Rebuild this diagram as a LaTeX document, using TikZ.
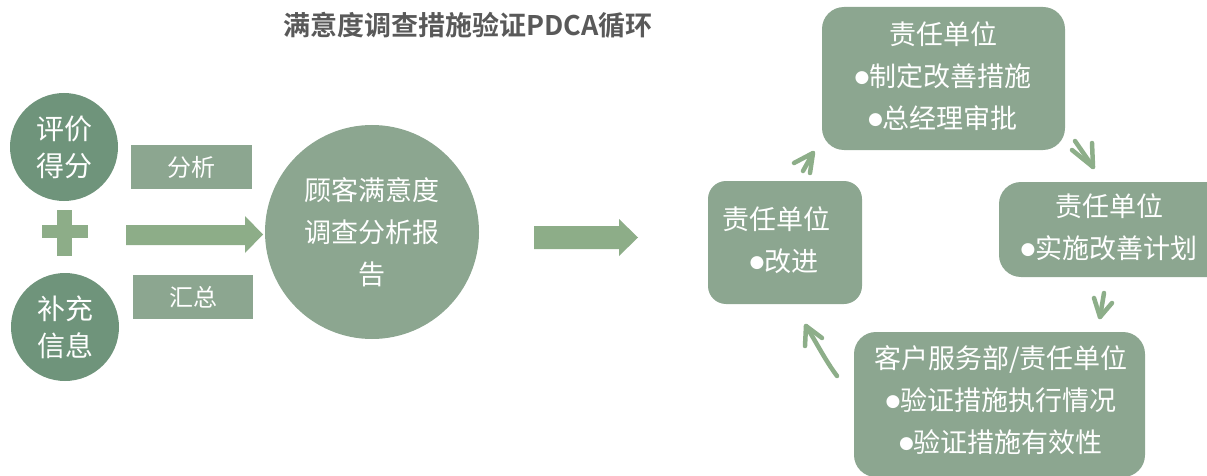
\documentclass[tikz,border=0pt]{standalone}
\usepackage{fontspec}
\setmainfont{Noto Sans CJK SC}[BoldFont=Noto Sans CJK SC Bold]
\newfontfamily\dvs{DejaVu Sans}
\definecolor{darkc}{HTML}{6F947B}
\definecolor{boxc}{HTML}{8CA690}
\definecolor{arrc}{HTML}{8DAD88}
\definecolor{handc}{HTML}{8DAE89}
\definecolor{titlec}{HTML}{595959}
\newcommand{\bul}{\raisebox{3.5pt}{\dvs\fontsize{17}{17}\selectfont ●}}
\tikzset{
  smallcirc/.style={circle, fill=darkc, minimum size=108pt, inner sep=0pt, text=white, align=center, font=\fontsize{28}{37}\selectfont},
  bigcirc/.style={circle, fill=boxc, minimum size=214pt, inner sep=0pt, text=white, align=center, font=\fontsize{27}{42}\selectfont},
  labbox/.style={rectangle, fill=boxc, inner sep=0pt, text=white, font=\fontsize{24}{24}\selectfont},
  rbox/.style={rectangle, rounded corners=22pt, fill=boxc, inner sep=0pt},
  btext/.style={text=white, align=center, font=\fontsize{27}{42}\selectfont, inner sep=0pt},
  hand/.style={draw=handc, line width=4.5pt, line cap=round, line join=round},
}
\begin{document}
\begin{tikzpicture}[x=1pt, y=-1pt]
\useasboundingbox (0,0) rectangle (1207,476);
\begin{scope}
\clip (0,0) rectangle (1207,476);
% title
\node[text=titlec, font=\fontsize{27}{27}\selectfont\bfseries, inner sep=0pt] (title) at (468,25) {满意度调查措施验证PDCA循环};
% left circles
\node[smallcirc] (c1) at (64,147) {评价\\得分};
\node[smallcirc] (c2) at (65,327) {补充\\信息};
% plus
\fill[arrc] (42,225) rectangle (88,238);
\fill[arrc] (57,210) rectangle (72,256);
% label boxes
\node[labbox, minimum width=121pt, minimum height=44pt] (fx) at (191.5,167) {分析};
\node[labbox, minimum width=120pt, minimum height=44pt] (hz) at (193,297) {汇总};
% block arrow 1
\fill[arrc] (126,225)--(245,225)--(245,216)--(263,234.5)--(245,253)--(245,245)--(126,245)--cycle;
% big circle
\node[bigcirc] (report) at (372,232) {顾客满意度\\调查分析报\\告};
% block arrow 2
\fill[arrc] (534,226)--(619,226)--(619,219)--(638,237.5)--(619,256)--(619,249)--(534,249)--cycle;
% boxes
\node[rbox, minimum width=243pt, minimum height=143pt] (top) at (943.5,78.5) {};
\node[btext] (toptxt) at (943,76) {责任单位\\\bul 制定改善措施\\\bul 总经理审批};
\node[rbox, minimum width=240pt, minimum height=95pt] (right) at (1119,229.5) {};
\node[btext] (righttxt) at (1109,227) {责任单位\\\bul 实施改善计划};
\node[rbox, minimum width=154pt, minimum height=123pt, rounded corners=18pt] (left) at (785,242.5) {};
\node[btext] (lefttxt) at (781,240) {责任单位\kern10pt\\\kern6pt\bul 改进};
\node[rbox, minimum width=291pt, minimum height=145pt] (bottom) at (999.5,404.5) {};
\node[btext] (bottomtxt) at (1001,400) {客户服务部/责任单位\\\bul 验证措施执行情况\\\bul 验证措施有效性};
% hand-drawn arrows
\draw[hand] (810,173) -- (813,153);
\draw[hand] (794,163) -- (813,153) -- (803,171);
\draw[hand] (1075,141) -- (1093,167);
\draw[hand] (1072,150) -- (1093,167) -- (1092,143);
\draw[hand] (1104,293) -- (1100,317);
\draw[hand] (1094,298) -- (1100,317) -- (1112,303);
\draw[hand] (837,376) .. controls (825,360) and (815,340) .. (806,326);
\draw[hand] (805,346) -- (806,326) -- (822,338);
\end{scope}
\end{tikzpicture}
\end{document}
